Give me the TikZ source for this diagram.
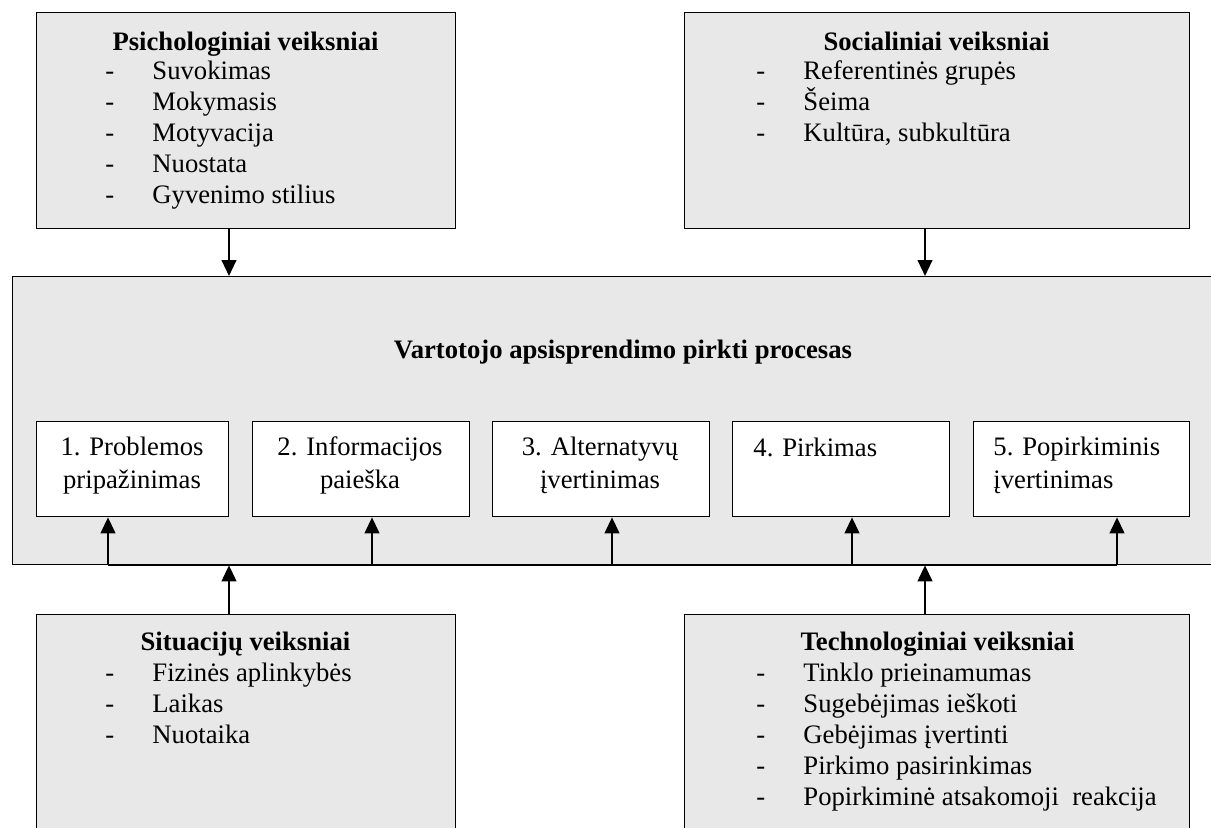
\documentclass[tikz,border=0pt]{standalone}
\usepackage{fontspec}
\setmainfont{Liberation Serif}
\usetikzlibrary{arrows.meta}
\definecolor{panel}{RGB}{232,232,232}
\newcommand\pxu{0.45pt}
\newcommand\listdash{\makebox[21.15pt][l]{-}}

\begin{document}
\begin{tikzpicture}[x=0.45pt,y=-0.45pt,
  panelbox/.style={draw=black, line width=0.6pt, fill=panel, inner sep=0pt, anchor=north west},
  stepbox/.style={draw=black, line width=0.6pt, fill=white, inner sep=0pt, anchor=north west,
                  minimum height=95*\pxu},
  wire/.style={line width=0.95pt},
  arr/.style={wire, -{Triangle[width=6.6pt,length=7.2pt]}},
  txt/.style={inner sep=0pt, font=\fontsize{12}{13.9}\selectfont},
  head/.style={inner sep=0pt, font=\fontsize{12}{13.9}\selectfont\bfseries, anchor=base},
  items/.style={txt, align=left, anchor=base west},
  steptxt/.style={inner sep=0pt, font=\fontsize{12}{14.8}\selectfont, anchor=base, align=center},
  steptxtl/.style={inner sep=0pt, font=\fontsize{12}{14.8}\selectfont, anchor=base west, align=left}]

\useasboundingbox (0,0) rectangle (1211,827);
\clip (0,0) rectangle (1211,827);

% factor panels
\node[panelbox, minimum width=419*\pxu, minimum height=216*\pxu] (psy)  at (36,12)  {};
\node[panelbox, minimum width=505*\pxu, minimum height=216*\pxu] (soc)  at (684,12) {};
\node[panelbox, minimum width=1230*\pxu, minimum height=288*\pxu] (proc) at (12,276) {};
\node[panelbox, minimum width=419*\pxu, minimum height=260*\pxu] (sit)  at (36,614) {};
\node[panelbox, minimum width=505*\pxu, minimum height=260*\pxu] (tech) at (684,614) {};

% process stages
\node[stepbox, minimum width=192*\pxu] (s1) at (36,421)  {};
\node[stepbox, minimum width=217*\pxu] (s2) at (252,421) {};
\node[stepbox, minimum width=217*\pxu] (s3) at (492,421) {};
\node[stepbox, minimum width=217*\pxu] (s4) at (732,421) {};
\node[stepbox, minimum width=216*\pxu] (s5) at (973,421) {};

% panel texts (multi-line nodes are placed by the baseline of their last line)
\node[head] (psyT) at (245.5,50) {Psichologiniai veiksniai};
\node[items] (psyL) at (105,203) {\listdash Suvokimas\\ \listdash Mokymasis\\ \listdash Motyvacija\\ \listdash Nuostata\\ \listdash Gyvenimo stilius};

\node[head] (socT) at (936.5,50) {Socialiniai veiksniai};
\node[items] (socL) at (756,141) {\listdash Referentinės grupės\\ \listdash Šeima\\ \listdash Kultūra, subkultūra};

\node[head] (procT) at (623,358) {Vartotojo apsisprendimo pirkti procesas};

\node[head] (sitT) at (245.5,650) {Situacijų veiksniai};
\node[items] (sitL) at (105,743) {\listdash Fizinės aplinkybės\\ \listdash Laikas\\ \listdash Nuotaika};

\node[head] (techT) at (937.5,650) {Technologiniai veiksniai};
\node[items] (techL) at (756,805) {\listdash Tinklo prieinamumas\\ \listdash Sugebėjimas ieškoti\\ \listdash Gebėjimas įvertinti\\ \listdash Pirkimo pasirinkimas\\ \listdash Popirkiminė atsakomoji\ \ reakcija};

% stage texts
\node[steptxt] (t1) at (132,488) {1. Problemos\\pripažinimas};
\node[steptxt] (t2) at (360,488) {2. Informacijos\\paieška};
\node[steptxt] (t3) at (600,488) {3. Alternatyvų\\įvertinimas};
\node[steptxtl] (t4) at (753,456) {4. Pirkimas};
\node[steptxtl] (t5) at (993,488) {5. Popirkiminis\\įvertinimas};

% connector columns
\coordinate (xL) at (229,0);
\coordinate (xR) at (925,0);
\coordinate (x1) at (108,0);
\coordinate (x2) at (372,0);
\coordinate (x3) at (612,0);
\coordinate (x4) at (852,0);
\coordinate (x5) at (1117,0);

\draw[arr] (xL |- psy.south) -- (xL |- proc.north);
\draw[arr] (xR |- soc.south) -- (xR |- proc.north);

\draw[wire] (x1 |- proc.south) -- (x5 |- proc.south);
\foreach \i in {1,...,5}
  \draw[arr] (x\i |- proc.south) -- (x\i |- s\i.south);

\draw[arr] (xL |- sit.north) -- (xL |- proc.south);
\draw[arr] (xR |- tech.north) -- (xR |- proc.south);
\end{tikzpicture}
\end{document}
